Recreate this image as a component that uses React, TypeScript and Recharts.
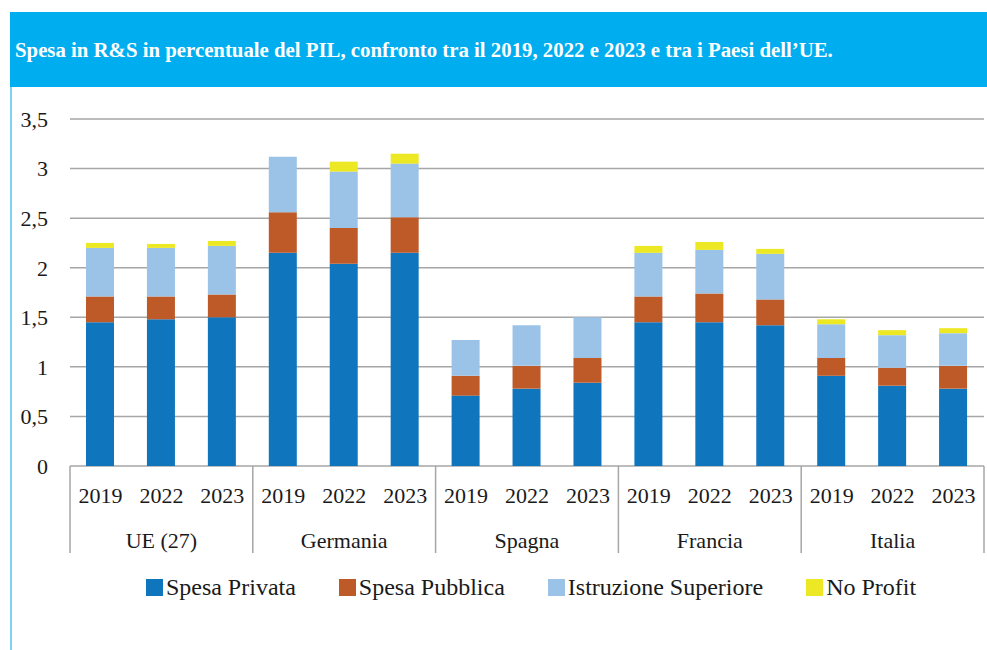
import { BarChart, Bar, XAxis, YAxis, CartesianGrid, Legend } from 'recharts';

const years = ['2019', '2022', '2023'];
const countries = ['UE (27)', 'Germania', 'Spagna', 'Francia', 'Italia'];

// one value per country/year, in the order of countries x years
const spesaPrivata = [1.45, 1.48, 1.5, 2.15, 2.04, 2.15, 0.71, 0.78, 0.84, 1.45, 1.45, 1.42, 0.91, 0.81, 0.78];
const spesaPubblica = [0.26, 0.23, 0.23, 0.41, 0.36, 0.36, 0.2, 0.23, 0.25, 0.26, 0.29, 0.26, 0.18, 0.18, 0.23];
const istruzioneSuperiore = [0.49, 0.49, 0.49, 0.56, 0.57, 0.54, 0.36, 0.41, 0.41, 0.44, 0.44, 0.46, 0.34, 0.33, 0.33];
const noProfit = [0.05, 0.04, 0.05, 0, 0.1, 0.1, 0, 0, 0, 0.07, 0.08, 0.05, 0.05, 0.05, 0.05];

const yTicks = [0, 0.5, 1, 1.5, 2, 2.5, 3, 3.5];

const series = [
  { key: 'privata', name: 'Spesa Privata', color: '#0F75BC' },
  { key: 'pubblica', name: 'Spesa Pubblica', color: '#BE5A27' },
  { key: 'istruzione', name: 'Istruzione Superiore', color: '#9AC3E7' },
  { key: 'noprofit', name: 'No Profit', color: '#ECE823' },
];

const FONT = '"Liberation Serif", "DejaVu Serif", serif';
const CHART_W = 987;
const MARGIN = { top: 19, right: 3, left: 8, bottom: 0 };
const Y_W = 62;
const SLOT = (CHART_W - MARGIN.left - MARGIN.right - Y_W) / 15;

const data = countries.flatMap((c, ci) =>
  years.map((y, yi) => {
    const i = ci * 3 + yi;
    return {
      id: `${c}-${y}`,
      privata: spesaPrivata[i],
      pubblica: spesaPubblica[i],
      istruzione: istruzioneSuperiore[i],
      noprofit: noProfit[i],
    };
  })
);

function CategoryTick(props: any) {
  const { x, y, payload, index } = props;
  const i = index ?? payload?.index ?? 0;
  const half = payload?.offset ? payload.offset : SLOT / 2;
  return (
    <g>
      <text x={x} y={y + 37} textAnchor="middle" fontSize={22} fill="#1a1a1a" fontFamily={FONT}>
        {years[i % 3]}
      </text>
      {i % 3 === 1 && (
        <text x={x} y={y + 82} textAnchor="middle" fontSize={22} fill="#1a1a1a" fontFamily={FONT}>
          {countries[Math.floor(i / 3)]}
        </text>
      )}
      {i % 3 === 0 && <line x1={x - half} x2={x - half} y1={y} y2={y + 87} stroke="#A6A6A6" strokeWidth={1.5} />}
      {i === data.length - 1 && (
        <line x1={x + half} x2={x + half} y1={y} y2={y + 87} stroke="#A6A6A6" strokeWidth={1.5} />
      )}
    </g>
  );
}

function LegendContent() {
  return (
    <div
      style={{
        display: 'flex',
        justifyContent: 'center',
        gap: 43,
        paddingTop: 16,
        paddingLeft: 70,
        fontFamily: FONT,
        fontSize: 24,
        color: '#1a1a1a',
      }}
    >
      {series.map((s) => (
        <div key={s.key} style={{ display: 'flex', alignItems: 'center' }}>
          <span style={{ display: 'inline-block', width: 17, height: 17, background: s.color, marginRight: 3 }} />
          <span>{s.name}</span>
        </div>
      ))}
    </div>
  );
}

export default function App() {
  return (
    <div style={{ position: 'absolute', left: 0, top: 0, width: 987, height: 650, background: '#fff', fontFamily: FONT }}>
      <div
        style={{
          position: 'absolute',
          left: 10,
          top: 12,
          width: 977,
          height: 75,
          background: '#00AEEF',
          color: '#fff',
          fontWeight: 'bold',
          fontSize: 20.8,
          display: 'flex',
          alignItems: 'center',
          paddingLeft: 5,
          boxSizing: 'border-box',
        }}
      >
        Spesa in R&amp;S in percentuale del PIL, confronto tra il 2019, 2022 e 2023 e tra i Paesi dell’UE.
      </div>
      <div style={{ position: 'absolute', left: 10, top: 87, width: 1.5, height: 563, background: '#7FD2F3' }} />
      <div style={{ position: 'absolute', left: 0, top: 100 }}>
        <BarChart width={CHART_W} height={530} data={data} margin={MARGIN} barSize={28}>
          <CartesianGrid vertical={false} stroke="#A6A6A6" strokeWidth={1.5} />
          <XAxis
            dataKey="id"
            interval={0}
            height={92}
            axisLine={false}
            tickLine={false}
            tickSize={0}
            tickMargin={0}
            tick={<CategoryTick />}
          />
          <YAxis
            width={Y_W}
            domain={[0, 3.5]}
            ticks={yTicks}
            axisLine={false}
            tickLine={false}
            tickMargin={16}
            tick={{ fontSize: 22, fill: '#1a1a1a', fontFamily: FONT }}
            tickFormatter={(v: number) => String(v).replace('.', ',')}
          />
          <Legend verticalAlign="bottom" height={72} content={<LegendContent />} />
          {series.map((s) => (
            <Bar key={s.key} dataKey={s.key} name={s.name} stackId="a" fill={s.color} isAnimationActive={false} />
          ))}
        </BarChart>
      </div>
    </div>
  );
}
